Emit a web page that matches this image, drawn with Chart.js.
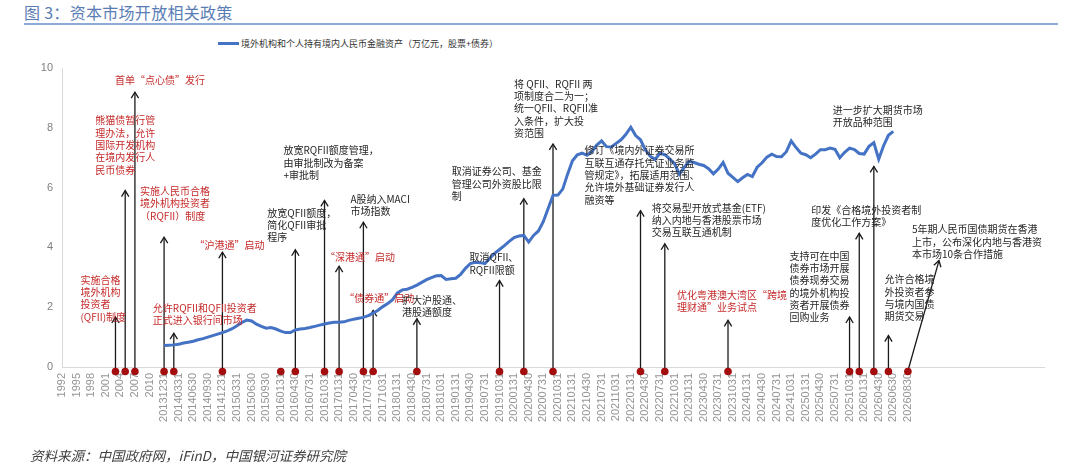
<!DOCTYPE html>
<html>
<head>
<meta charset="utf-8">
<script src="https://cdn.jsdelivr.net/npm/chart.js@4.4.1/dist/chart.umd.min.js"></script>
<style>
  html, body { margin: 0; padding: 0; background: #fff; }
  body { width: 1080px; height: 468px; position: relative; overflow: hidden; font-family: "Noto Sans CJK SC", "Noto Sans", sans-serif; }
  #chart { position: absolute; left: 0; top: 0; }
  .title { position: absolute; left: 24px; top: 0px; font-size: 16px; color: #5a7db5; letter-spacing: 0.3px; }
  .rule { position: absolute; left: 24px; top: 23px; width: 1034px; height: 2px; background: #8eaadb; }
  .legend { position: absolute; left: 218px; top: 37px; font-size: 9px; color: #333; display: flex; align-items: center; }
  .legend i { display: inline-block; width: 21px; height: 3px; background: #4472c4; margin-right: 2px; }
  .source { position: absolute; left: 30px; top: 445px; font-size: 13.5px; color: #404040; font-style: italic; }
</style>
</head>
<body>
<div class="title">图 3：资本市场开放相关政策</div>
<div class="rule"></div>
<div class="legend"><i></i>境外机构和个人持有境内人民币金融资产（万亿元，股票+债券）</div>
<canvas id="chart" width="1080" height="468"></canvas>
<div class="source">资料来源：中国政府网，iFinD，中国银河证券研究院</div>

<script>
// ---- data ----
const tickLabels = ['1992', '1995', '1998', '2001', '2004', '2007', '2010', '20131231',
  '20140331', '20140630', '20140930', '20141231', '20150331', '20150630', '20150930',
  '20160131', '20160430', '20160731', '20161031', '20170131', '20170430', '20170731', '20171031',
  '20180131', '20180430', '20180731', '20181031', '20190131', '20190430', '20190731', '20191031',
  '20200131', '20200430', '20200731', '20201031', '20210131', '20210430', '20210731', '20211031',
  '20220131', '20220430', '20220731', '20221031', '20230131', '20230430', '20230731', '20231031',
  '20240131', '20240430', '20240731', '20241031', '20250131', '20250430', '20250731', '20251031',
  '20260131', '20260430', '20260630', '20260830'];
const totalCats = 203;       // axis runs on past the last label
const lineStartLabel = '20131231';

// 境外机构和个人持有境内人民币金融资产 (万亿元), one value per category from 20131231
const holdings = [
  0.72, 0.73, 0.74, 0.76, 0.80, 0.83, 0.86, 0.91, 0.95, 1.00,
  1.05, 1.10, 1.15, 1.21, 1.28, 1.38, 1.49, 1.57, 1.54, 1.43,
  1.36, 1.30, 1.32, 1.27, 1.20, 1.15, 1.15, 1.24, 1.27, 1.29,
  1.32, 1.36, 1.40, 1.44, 1.47, 1.50, 1.50, 1.51, 1.56, 1.60,
  1.63, 1.66, 1.72, 1.80, 1.90, 2.02, 2.12, 2.25, 2.48, 2.58,
  2.60, 2.66, 2.74, 2.83, 2.92, 2.99, 3.05, 3.06, 2.93, 2.95,
  2.97, 3.10, 3.30, 3.46, 3.50, 3.49, 3.46, 3.64, 3.80, 3.93,
  4.06, 4.20, 4.33, 4.38, 4.40, 4.18, 4.40, 4.55, 4.86, 5.30,
  5.74, 5.75, 5.95, 6.45, 6.90, 7.10, 7.15, 7.08, 7.20, 7.42,
  7.56, 7.37, 7.36, 7.48, 7.60, 7.78, 8.02, 7.74, 7.60, 7.26,
  7.05, 6.94, 7.15, 7.10, 6.96, 6.80, 6.45, 6.68, 6.88, 6.84,
  6.78, 6.74, 6.63, 6.46, 6.62, 6.84, 6.48, 6.34, 6.20, 6.33,
  6.44, 6.37, 6.68, 6.83, 7.02, 7.12, 7.04, 7.03, 7.20, 7.56,
  7.34, 7.15, 7.10, 7.00, 7.12, 7.27, 7.27, 7.32, 7.28, 7.00,
  7.18, 7.32, 7.27, 7.14, 7.12, 7.38, 7.50, 6.95, 7.40, 7.75,
  7.88];

// policy events: category index of the dot, arrow tip height, tip category (diagonal arrow only)
const eventCats = [11, 13, 15, 21, 23, 33, 45, 48, 54, 57, 62, 64, 73, 90, 95, 101, 119, 124, 137, 162, 164, 167, 170, 174];
const eventTops = [1.67, 5.90, 9.19, 4.34, 1.13, 3.84, null, 3.92, 5.57, 3.37, 4.84, 1.89, 1.61, 2.89, 5.63, 7.46, 5.23, 4.12, 1.56, 1.67, 4.47, 6.71, 1.05, 3.56];
const eventTipCats = eventCats.map((c, i) => i === eventCats.length - 1 ? 180.4 : c);
const eventNotes = [
  '实施合格\n境外机构\n投资者\n(QFII)制度',
  '熊猫债暂行管\n理办法，允许\n国际开发机构\n在境内发行人\n民币债券',
  '首单“点心债”发行',
  '实施人民币合格\n境外机构投资者\n（RQFII）制度',
  '允许RQFII和QFII投资者\n正式进入银行间市场',
  '“沪港通”启动',
  '',
  '放宽QFII额度，\n简化QFII审批\n程序',
  '放宽RQFII额度管理，\n由审批制改为备案\n+审批制',
  '“深港通”启动',
  'A股纳入MACI\n市场指数',
  '“债券通”启动',
  '扩大沪股通、\n港股通额度',
  '取消QFII、\nRQFII限额',
  '取消证券公司、基金\n管理公司外资股比限\n制',
  '将 QFII、RQFII 两\n项制度合二为一；\n统一QFII、RQFII准\n入条件，扩大投\n资范围',
  '修订《境内外证券交易所\n互联互通存托凭证业务监\n管规定》，拓展适用范围、\n允许境外基础证券发行人\n融资等',
  '将交易型开放式基金(ETF)\n纳入内地与香港股票市场\n交易互联互通机制',
  '优化粤港澳大湾区“跨境\n理财通”业务试点',
  '支持可在中国\n债券市场开展\n债券现券交易\n的境外机构投\n资者开展债券\n回购业务',
  '印发《合格境外投资者制\n度优化工作方案》',
  '进一步扩大期货市场\n开放品种范围',
  '允许合格境\n外投资者参\n与境内国债\n期货交易',
  '5年期人民币国债期货在香港\n上市，公布深化内地与香港资\n本市场10条合作措施'
];

// ---- styling for the notes ----
const RED = '#c62a2a', INK = '#262626';
const noteRed = [true, true, true, true, true, true, false, false, false, true, false, true, false, false, false, false, false, false, true, false, false, false, false, false];
// note position relative to the arrow tip: [dx to text left, dy to first line middle], px
const noteOffsets = [[-35, -37], [-30, -70], [-20, -12], [-24, -46], [-21, -25], [-28, -7], [0, 0], [-28, -37],
  [-41, -50], [-14, -9], [-13, -23], [-29, -12], [-15, -19], [-30, -23], [-72, -27], [-39, -60],
  [-56, -60], [-13, -36], [-51, -25], [-60, -61], [-48, -23], [-41, -56], [-4, -56], [-27, -31]];
const NOTE_FONT = '10px "Noto Sans CJK SC"';
const NOTE_LINE = 12.3;

// categories: each shown label is followed by two unlabeled ones
const categories = [];
tickLabels.forEach((t, k) => {
  categories.push(t);
  if (k < tickLabels.length - 1) categories.push('', '');
});
while (categories.length < totalCats) categories.push('');

const lineStart = categories.indexOf(lineStartLabel);
const lineData = categories.map((_, i) => {
  const j = i - lineStart;
  return j >= 0 && j < holdings.length ? holdings[j] : null;
});

function drawArrowHead(ctx, x0, y0, x1, y1) {
  const a = Math.atan2(y1 - y0, x1 - x0);
  const len = 7, spread = 0.55;
  ctx.beginPath();
  ctx.moveTo(x1 - len * Math.cos(a - spread), y1 - len * Math.sin(a - spread));
  ctx.lineTo(x1, y1);
  ctx.lineTo(x1 - len * Math.cos(a + spread), y1 - len * Math.sin(a + spread));
  ctx.stroke();
}

const policyPlugin = {
  id: 'policyArrows',
  beforeDatasetsDraw(chart) {
    const { ctx, scales: { x, y } } = chart;
    const y0 = y.getPixelForValue(0);
    ctx.save();
    ctx.strokeStyle = '#1a1a1a';
    ctx.lineWidth = 1.3;
    eventCats.forEach((c, i) => {
      if (eventTops[i] == null) return;
      const bx = x.getPixelForValue(c);
      const tx = x.getPixelForValue(eventTipCats[i]);
      const ty = y.getPixelForValue(eventTops[i]);
      ctx.beginPath();
      ctx.moveTo(bx, y0 + 4);
      ctx.lineTo(tx, ty);
      ctx.stroke();
      drawArrowHead(ctx, bx, y0 + 4, tx, ty);
    });
    ctx.restore();
  },
  afterDraw(chart) {
    const { ctx, scales: { x, y } } = chart;
    const y0 = y.getPixelForValue(0);
    ctx.save();
    // dots on the axis
    ctx.fillStyle = '#a30d0d';
    eventCats.forEach(c => {
      ctx.beginPath();
      ctx.arc(x.getPixelForValue(c), y0 + 4.5, 3.8, 0, Math.PI * 2);
      ctx.fill();
    });
    // notes
    ctx.font = NOTE_FONT;
    ctx.textAlign = 'left';
    ctx.textBaseline = 'middle';
    eventNotes.forEach((note, i) => {
      if (!note) return;
      const tx = x.getPixelForValue(eventTipCats[i]);
      const ty = y.getPixelForValue(eventTops[i]);
      const [dx, dy] = noteOffsets[i];
      ctx.fillStyle = noteRed[i] ? RED : INK;
      note.split('\n').forEach((line, k) => {
        ctx.fillText(line, tx + dx, ty + dy + k * NOTE_LINE);
      });
    });
    ctx.restore();
  }
};

new Chart(document.getElementById('chart'), {
  type: 'line',
  data: {
    labels: categories,
    datasets: [{
      label: '境外机构和个人持有境内人民币金融资产（万亿元，股票+债券）',
      data: lineData,
      borderColor: '#4472c4',
      borderWidth: 3,
      pointRadius: 0,
      tension: 0,
      fill: false,
      spanGaps: false,
    }],
  },
  options: {
    responsive: false,
    animation: false,
    layout: { padding: { left: 0, right: 36, top: 68, bottom: 0 } },
    plugins: { legend: { display: false }, tooltip: { enabled: false } },
    scales: {
      x: {
        type: 'category',
        offset: false,
        grid: { display: false, drawTicks: false },
        border: { color: '#d9d9d9', width: 1 },
        ticks: {
          autoSkip: false, minRotation: 90, maxRotation: 90, padding: 6,
          color: '#959595', font: { size: 11, family: '"Liberation Sans", Arial, sans-serif' },
        },
        afterFit: s => { s.height = 101; },
      },
      y: {
        min: 0, max: 10,
        grid: { display: false, drawTicks: false },
        border: { color: '#d9d9d9', width: 1 },
        ticks: { stepSize: 2, padding: 9, color: '#7f7f7f', font: { size: 11, family: '"Liberation Sans", Arial, sans-serif' } },
        afterFit: s => { s.width = 62; },
      },
    },
  },
  plugins: [policyPlugin],
});
</script>
</body>
</html>
